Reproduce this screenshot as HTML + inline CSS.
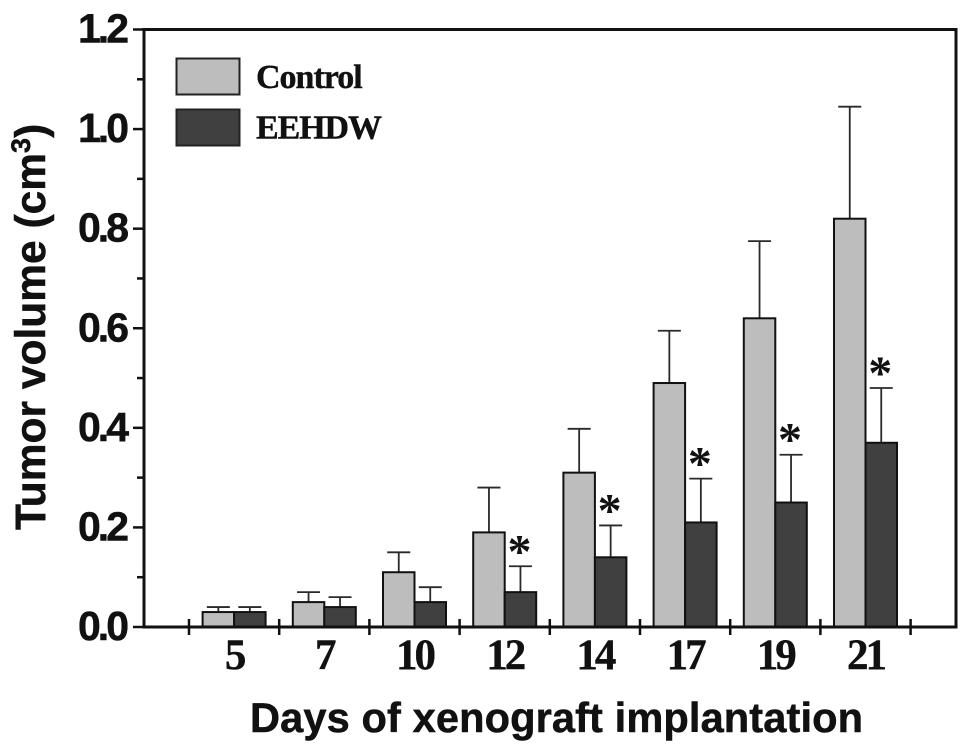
<!DOCTYPE html>
<html>
<head>
<meta charset="utf-8">
<style>
html,body{margin:0;padding:0;background:#fff;width:969px;height:752px;overflow:hidden}
svg{display:block}
.sans{font-family:"Liberation Sans",Arial,sans-serif;font-weight:700;fill:#111;stroke:#111;stroke-width:.5}
.serif{font-family:"Liberation Serif","Times New Roman",serif;font-weight:700;fill:#111;stroke:#111;stroke-width:.4}
</style>
</head>
<body>
<svg id="chart" width="969" height="752" viewBox="0 0 969 752" xmlns="http://www.w3.org/2000/svg">
  <text class="sans" transform="translate(45,530) rotate(-90)" font-size="42.5">Tumor volume (cm<tspan font-size="27" dy="-15">3</tspan><tspan dy="15">)</tspan></text>
  <text class="sans" x="250" y="732" font-size="41.6" letter-spacing="0.1">Days of xenograft implantation</text>
  <g id="plot"></g>
  <g>
    <rect x="176.5" y="58.5" width="63" height="36" fill="#bdbdbd" stroke="#222" stroke-width="2"/>
    <text class="serif" x="256" y="88" font-size="34" letter-spacing="-1">Control</text>
    <rect x="176.5" y="109.5" width="63" height="36" fill="#404040" stroke="#222" stroke-width="2"/>
    <text class="serif" x="256" y="138.5" font-size="34" letter-spacing="-1.1">EEHDW</text>
  </g>
</svg>
<script>
const days = ["5", "7", "10", "12", "14", "17", "19", "21"];
const controlValues = [0.03, 0.05, 0.11, 0.19, 0.31, 0.49, 0.62, 0.82];
const controlErrorTops = [0.04, 0.07, 0.15, 0.28, 0.398, 0.595, 0.775, 1.045];
const eehdwValues = [0.03, 0.04, 0.05, 0.07, 0.14, 0.21, 0.25, 0.37];
const eehdwErrorTops = [0.04, 0.06, 0.08, 0.122, 0.204, 0.298, 0.346, 0.48];
const significant = [false, false, false, true, true, true, true, true];
const yTickLabels = ["0.0", "0.2", "0.4", "0.6", "0.8", "1.0", "1.2"];
const yMinorTicks = [0.1, 0.3, 0.5, 0.7, 0.9, 1.1];

const NS = "http://www.w3.org/2000/svg";
const plot = document.getElementById("plot");
const Y0 = 627, Y1 = 29.5, YMAX = 1.2;
const XL = 144, XR = 956, X0 = 189, STEP = 90.2, BAR = 31.5;
const y = v => Y0 - (v / YMAX) * (Y0 - Y1);
const tickX = i => X0 + i * STEP;
const groupCenter = i => tickX(i) + STEP / 2;

function mk(tag, attrs, text) {
  const el = document.createElementNS(NS, tag);
  for (const k in attrs) el.setAttribute(k, attrs[k]);
  if (text !== undefined) el.textContent = text;
  plot.appendChild(el);
  return el;
}

function drawSeries(values, tops, color, offset, key) {
  values.forEach((v, i) => {
    const left = groupCenter(i) + offset;
    const cx = left + BAR / 2;
    const stem = mk("line", {x1: cx, x2: cx, y1: y(v), y2: y(tops[i]), stroke: "#2a2a2a", "stroke-width": 1.8});
    
    
    const cap = mk("line", {x1: cx - 11.5, x2: cx + 11.5, y1: y(tops[i]), y2: y(tops[i]), stroke: "#2a2a2a", "stroke-width": 1.8});
    
    
    const bar = mk("rect", {x: left, y: y(v), width: BAR, height: Y0 - y(v), fill: color, stroke: "#111", "stroke-width": 2});
    
    
  });
}
drawSeries(controlValues, controlErrorTops, "#bdbdbd", -BAR, "control");
drawSeries(eehdwValues, eehdwErrorTops, "#404040", 0, "eehdw");

significant.forEach((s, i) => {
  if (!s) return;
  const star = mk("text", {class: "serif", x: groupCenter(i) + BAR / 2 - 1, y: y(eehdwErrorTops[i]) + 1, "font-size": 48, "text-anchor": "middle", style: "stroke-width:0"}, "*");
  
  
});

const frame = mk("path", {d: "M" + XL + " " + Y1 + "H" + XR + "V" + Y0 + "H" + XL + "Z", fill: "none", stroke: "#111", "stroke-width": 3});



yTickLabels.forEach(label => {
  const v = parseFloat(label);
  const tick = mk("line", {x1: 133, x2: XL, y1: y(v), y2: y(v), stroke: "#111", "stroke-width": 2.5});
  
  
  const t = mk("text", {class: "sans", x: 126, y: y(v) + 13, "font-size": 41, "text-anchor": "end", "letter-spacing": -3}, label);
  
  
});
yMinorTicks.forEach(v => {
  const tick = mk("line", {x1: 137, x2: XL, y1: y(v), y2: y(v), stroke: "#111", "stroke-width": 2.5});
  
  
});

for (let i = 0; i <= days.length; i++) {
  const tick = mk("line", {x1: tickX(i), x2: tickX(i), y1: 619, y2: 635, stroke: "#111", "stroke-width": 2.5});
  
  
}
days.forEach((d, i) => {
  const t = mk("text", {class: "serif", x: groupCenter(i), y: 669, "font-size": 43, "text-anchor": "middle", "letter-spacing": -3}, d);
  
  
});
</script>
</body>
</html>
